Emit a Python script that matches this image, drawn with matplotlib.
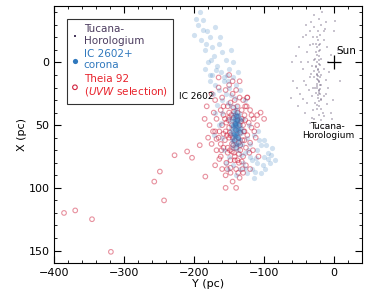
import numpy as np
import matplotlib.pyplot as plt

# Tucana-Horologium members (Y, X in pc)
tuchor_y = [-22, -18, -28, -35, -12, -45, -25, -20, -30, -15, -50, -24, -20, -26, -10, -38, -22, -18, -28, -55,
            -5, -24, -20, -26, -32, -15, -45, -22, -19, -25, -28, -35, -12, -21, -24, -18, -30, -40, -8, -22,
            -26, -20, -15, -32, -48, -23, -19, -27, -38, -10, -21, -25, -30, -16, -42, -22, -28, -18, -35, -12,
            -25, -20, -23, -60, -58, 0, 5, 8, -2, -52, -62, -33, -40, -5, -15, -37, -9, -43, -30, -27,
            -23, -21, -24, -20, -23, -26,
            -22, -24, -21, -23, -25, -20, -22, -24, -21, -23, -19, -22, -24, -26, -21, -23, -20, -22, -25, -23,
            -28, -17, -31, -14, -34, -13, -29, -16, -36, -11, -27, -33, -18, -40, -7, -44, -3, -47, 2, -53]
tuchor_x = [-35, -30, -28, -25, -32, -20, -20, -22, -15, -18, -12, -12, -10, -8, -12, -8, -5, -3, -2, -5,
            -6, 0, 2, 4, 3, 5, 5, 8, 10, 10, 12, 12, 14, 15, 17, 18, 20, 18, 20, 22,
            24, 25, 27, 27, 25, 28, 30, 32, 32, 33, 35, 37, 38, 40, 40, 42, 45, 46, 48, 50,
            52, -15, -25, 0, 15, -25, -10, 15, 30, 35, 28, -32, -30, 40, -25, 0, 0, 15, -20, 20,
            5, -2, 13, 18, -18, -15,
            -14, -6, 1, 6, 9, 12, 16, 20, 23, 26, 29, 31, 34, 3, -9, 11, 21, 24, 19, 14,
            -38, -40, 44, 43, -14, -27, 7, 52, 22, 25, -3, 9, 37, -22, 8, 29, 45, 0, -33, 20]

# IC 2602 + corona
ic_y = [-195, -188, -182, -190, -178, -185, -175, -170, -172, -165, -180, -168, -160, -175, -162, -155, -158, -150,
        -170, -148, -165, -155, -145, -160, -150, -140, -152, -142, -135, -192, -200, -185, -178, -145, -138,
        -145, -140, -135, -148, -142, -138, -144, -136, -141, -146, -139, -143, -137, -141, -139, -145, -135,
        -142, -148, -133, -140, -150, -130, -144, -138, -147, -140, -136, -143, -140,
        -142, -139, -141, -144, -137, -140, -143, -138, -141, -139,
        -125, -120, -115, -110, -105, -100, -95, -92, -88, -98, -110, -120, -128, -118, -105, -130, -125, -85,
        -115, -100, -108, -122, -130, -160, -158, -165, -155, -150, -135, -140, -145, -170, -160, -128, -132,
        -141, -140, -139, -142, -138, -140, -143, -137, -141, -139, -140, -142, -138, -144, -136, -140, -141, -139,
        -143, -137, -140, -142, -138, -141, -139, -140, -144, -136, -142, -138,
        -183, -176, -169, -163, -157, -151, -147, -187, -173, -167, -153, -197, -112, -102, -97, -90, -107, -117,
        -123, -127, -113, -95, -133, -152, -162, -172, -177, -148,
        -146, -134, -145, -135, -147, -133, -144, -136, -146, -134, -140, -140, -143, -137, -145, -135, -141, -139]
ic_x = [-30, -34, -25, -18, -20, -10, -12, -28, -5, -15, 0, 3, -8, 10, 8, -2, 15, 5,
        18, -10, 22, 25, 12, 30, 20, 18, 32, 28, 22, -40, -22, 5, 15, 0, 8,
        40, 42, 45, 48, 50, 52, 55, 57, 60, 62, 65, 45, 48, 53, 58, 58, 62,
        38, 55, 52, 35, 45, 55, 68, 70, 52, 47, 40, 62, 56,
        44, 46, 49, 51, 54, 50, 57, 60, 48, 53,
        60, 65, 58, 70, 66, 75, 72, 80, 68, 85, 80, 75, 72, 85, 88, 80, 88, 78,
        92, 62, 55, 50, 45, 60, 70, 50, 80, 75, 85, 90, 82, 40, 40, 30, 65,
        41, 43, 46, 47, 49, 51, 52, 54, 55, 56, 58, 59, 61, 63, 44, 64, 50, 42,
        57, 51, 48, 53, 60, 45, 47, 66, 51, 55, 58, 43,
        -15, -2, 6, -20, 12, 15, 26, -26, 25, 34, 10, -35, 76, 82, 66, 74, 62, 78,
        70, 84, 87, 77, 74, 85, 48, 58, 10, 35,
        44, 46, 50, 50, 56, 56, 61, 61, 66, 66, 38, 68, 42, 42, 47, 53, 59, 65]

# Theia 92 (UVW selection)
th_y = [-386, -370, -346, -319, -257, -249, -243, -228, -210, -203, -192, -184, -173, -168, -164, -124, -110,
        -175, -170, -165, -160, -155, -150, -145, -140, -135, -130, -125, -120, -115, -172, -168, -162, -158,
        -152, -148, -142, -138, -132, -128, -122, -118, -178, -170, -165, -160, -155, -150, -146, -140, -134,
        -128, -124, -120, -116, -112, -175, -168, -162, -158, -152, -148, -142, -136, -130, -126, -120, -170,
        -160, -155, -148, -140, -135, -145, -130, -182, -180, -185, -110, -108, -105, -150, -144, -138, -146,
        -140, -134, -148, -142, -136, -154, -130, -132, -156, -150, -144, -138, -128, -126, -152, -164, -158,
        -162, -118, -114, -100, -124, -165, -145, -135, -150, -155, -140,
        -147, -143, -139, -135, -151, -149, -145, -137, -133, -131, -153, -141, -146, -144, -136, -134, -150,
        -142, -138, -148, -132, -156, -129, -127, -158, -154, -121, -161, -127, -131, -149, -143, -137, -153]
th_x = [120, 118, 125, 151, 95, 87, 110, 74, 71, 76, 66, 91, 55, 61, 77, 28, 42,
        25, 30, 20, 28, 22, 18, 25, 22, 28, 30, 35, 38, 45, 40, 45, 38, 42,
        35, 32, 30, 35, 38, 42, 48, 52, 50, 55, 60, 50, 55, 60, 65, 68, 70,
        62, 58, 64, 70, 60, 65, 70, 75, 68, 72, 78, 75, 80, 75, 82, 85, 82,
        85, 90, 88, 85, 92, 95, 88, 35, 60, 45, 50, 75, 40, 40, 44, 46, 50,
        54, 56, 58, 62, 64, 48, 50, 45, 62, 52, 36, 40, 55, 68, 68, 55, 35,
        65, 42, 55, 45, 28, 12, 15, 15, 10, 100, 100,
        42, 39, 43, 50, 46, 56, 60, 60, 47, 62, 58, 49, 71, 66, 73, 66, 44,
        78, 78, 84, 79, 45, 55, 35, 57, 80, 72, 70, 46, 85, 70, 72, 88, 85]

fig, ax = plt.subplots(figsize=(3.74, 2.99), dpi=100)
fig.subplots_adjust(left=0.145, right=0.968, top=0.98, bottom=0.12)

ax.scatter(tuchor_y, tuchor_x, marker='s', s=3, color='#4b3b5e', alpha=0.3, lw=0,
           label='Tucana-\nHorologium')
ax.scatter(ic_y, ic_x, marker='o', s=14, color='#2f78bd', alpha=0.22, lw=0, zorder=3,
           label='IC 2602+\ncorona')
ax.scatter(th_y, th_x, marker='o', s=11, facecolor='none', edgecolor='#d0243f', alpha=0.5, lw=0.8,
           zorder=2, label='Theia 92\n($UVW$ selection)')

ax.plot([0], [0], marker='+', ms=10, color='k', mew=0.9, ls='none')
ax.text(3, -5, 'Sun', fontsize=7.5, ha='left', va='bottom')
ax.text(-172, 27, 'IC 2602', fontsize=6.5, ha='right', va='center')
ax.text(-9, 55, 'Tucana-\nHorologium', fontsize=6.5, ha='center', va='center', linespacing=1.0)

ax.set_xlim(-400, 40)
ax.set_ylim(160, -45)
ax.set_xticks([-400, -300, -200, -100, 0])
ax.set_yticks([0, 50, 100, 150])
ax.set_xticks(np.arange(-400, 41, 20), minor=True)
ax.set_yticks(np.arange(-40, 161, 10), minor=True)
ax.tick_params(which='both', direction='in', top=True, right=True, labelsize=8)
ax.tick_params(which='major', length=5)
ax.tick_params(which='minor', length=2.5)
ax.set_xlabel('Y (pc)', fontsize=8, labelpad=1)
ax.set_ylabel('X (pc)', fontsize=8, labelpad=1)

leg = ax.legend(loc='upper left', fontsize=7.5, handlelength=0.5, handletextpad=0.6,
                borderpad=0.5, labelspacing=0.3, fancybox=False, markerscale=1.0,
                bbox_to_anchor=(0.025, 0.97))
leg.get_frame().set_edgecolor('k')
leg.get_frame().set_linewidth(0.8)
leg.set_zorder(5)
for txt, c in zip(leg.get_texts(), ['#4b3b5e', '#2f78bd', '#e8222b']):
    txt.set_color(c)
for h in leg.legend_handles:
    h.set_alpha(1)

fig.savefig('out.png', dpi=100)
